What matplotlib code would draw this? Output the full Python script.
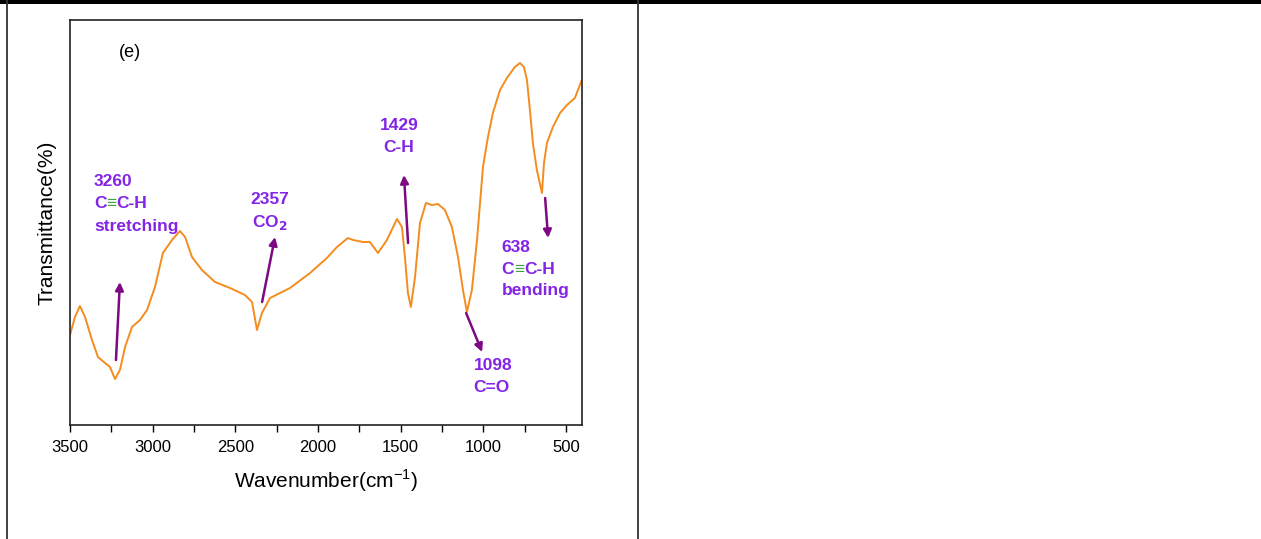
import matplotlib.pyplot as plt
from matplotlib.lines import Line2D
from matplotlib.patches import Rectangle

plt.rcParams['font.family'] = ['Liberation Sans', 'DejaVu Sans']

# FTIR spectrum (transmittance in arbitrary units)
wavenumber = [3500, 3470, 3440, 3409, 3367, 3331, 3288, 3258, 3228, 3198,
              3167, 3125, 3077, 3034, 2986, 2938, 2883, 2835, 2804, 2762,
              2702, 2623, 2532, 2442, 2399, 2369, 2339, 2290, 2169, 2048,
              1946, 1885, 1819, 1788, 1728, 1686, 1637, 1583, 1522, 1492,
              1474, 1456, 1438, 1413, 1383, 1347, 1311, 1274, 1232, 1190,
              1153, 1123, 1099, 1069, 1038, 1002, 972, 942, 899, 857,
              809, 778, 754, 736, 718, 700, 676, 645, 633, 615,
              579, 536, 494, 446, 409, 403]
transmittance = [90, 108, 119, 108, 85, 68, 62, 58, 46, 55,
                 78, 98, 105, 115, 138, 172, 185, 194, 188, 168,
                 155, 143, 137, 130, 123, 95, 112, 127, 137, 152,
                 167, 178, 187, 185, 183, 183, 172, 185, 206, 198,
                 168, 132, 118, 148, 202, 222, 220, 221, 215, 198,
                 168, 135, 113, 135, 185, 258, 288, 312, 335, 347,
                 358, 362, 358, 345, 315, 282, 255, 232, 262, 282,
                 298, 312, 320, 327, 343, 345]

# peak labels: (lines, text x, text y of first line, align, arrow tail, arrow head)
peaks = [
    (['3260', 'C#C-H', 'stretching'], 3355, 243, 'left', (3222, 65), (3198, 143)),
    (['2357', 'CO$_{\\mathbf{2}}$'], 2290, 225, 'center', (2338, 123), (2260, 188)),
    (['1429', 'C-H'], 1510, 300, 'center', (1455, 182), (1480, 250)),
    (['1098', 'C=O'], 1060, 60, 'left', (1104, 112), (1007, 73)),
    (['638', 'C#C-H', 'bending'], 890, 178, 'left', (626, 227), (608, 187)),
]

fig = plt.figure(figsize=(12.61, 5.39), dpi=100)
W, H = 1261, 539
ax = fig.add_axes([70 / W, 1 - 425 / H, 512 / W, 405 / H])

ax.plot(wavenumber, transmittance, color='#f48c1e', lw=1.4)
ax.set_xlim(3500, 403)
ax.set_ylim(0, 405)
ax.set_xticks([3500, 3000, 2500, 2000, 1500, 1000, 500])
ax.set_xticks([3250, 2750, 2250, 1750, 1250, 750], minor=True)
ax.set_yticks([])
ax.tick_params(axis='x', which='both', direction='out', length=5, width=1,
               labelsize=12, top=False, pad=6)
for s in ax.spines.values():
    s.set_linewidth(1.2)
    s.set_color('#222222')
ax.set_xlabel('Wavenumber(cm$^{\\mathregular{-1}}$)', fontsize=15, labelpad=9)
ax.set_ylabel('Transmittance(%)', fontsize=15, labelpad=10)

ax.text(0.095, 0.92, '(e)', transform=ax.transAxes, fontsize=13,
        ha='left', va='center')

txt_col = '#8324e6'
arr_col = '#7d0a82'
fs = 12.5
line_h = 22  # spacing between label lines, in data units (~px)
for lines, tx, ty, ha, tail, head in peaks:
    ax.annotate('', xy=head, xytext=tail,
                arrowprops=dict(arrowstyle='-|>', color=arr_col, lw=1.8,
                                mutation_scale=12, shrinkA=0, shrinkB=0))
    for i, s in enumerate(lines):
        y = ty - i * line_h
        if '#' in s:
            a, b = s.split('#')
            t1 = ax.text(tx, y, a, color=txt_col, fontsize=fs, weight='bold',
                         ha='left', va='center')
            t2 = ax.annotate('\u2261', xy=(1, 0), xycoords=t1, color='#3aa63a',
                             fontsize=fs, weight='bold', ha='left', va='bottom')
            ax.annotate(b, xy=(1, 0), xycoords=t2, color=txt_col, fontsize=fs,
                        weight='bold', ha='left', va='bottom')
        else:
            ax.text(tx, y, s, color=txt_col, fontsize=fs, weight='bold',
                    ha=ha, va='center')

# page table borders around the panel
fig.add_artist(Rectangle((0, 1 - 4 / H), 1, 4 / H, transform=fig.transFigure,
                         color='black', lw=0))
fig.add_artist(Line2D([7 / W, 7 / W], [0, 1], transform=fig.transFigure,
                      color='#333333', lw=1.3))
fig.add_artist(Line2D([638 / W, 638 / W], [0, 1], transform=fig.transFigure,
                      color='#333333', lw=1.3))

fig.savefig('out.png', dpi=100)
